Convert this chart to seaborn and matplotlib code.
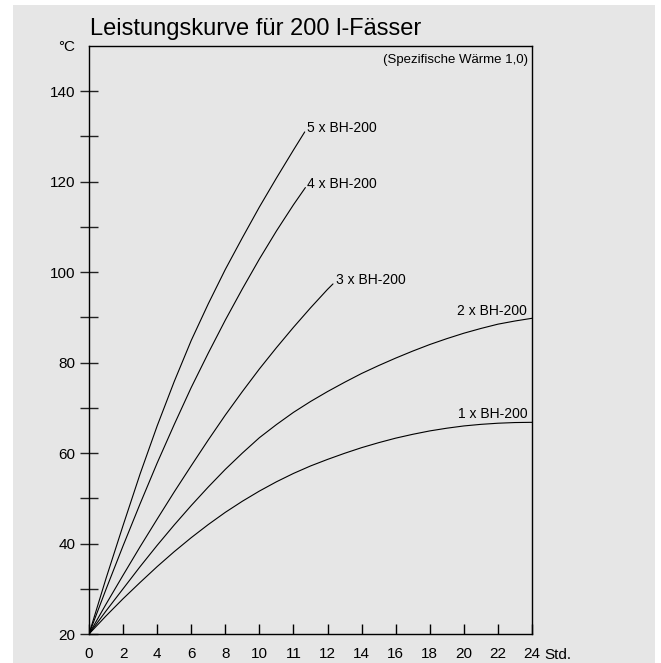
import matplotlib
matplotlib.use("Agg")
import matplotlib.pyplot as plt
import matplotlib.patches as mpatches
import pandas as pd
import seaborn as sns

# x axis positions (tick index) and the printed labels
x_ticks = list(range(14))
x_labels = ["0", "2", "4", "6", "8", "10", "11", "12", "14", "16", "18", "20", "22", "24"]

# curves (x in tick index units, y in degC)
x_1x = [0, 0.5, 1, 1.5, 2, 2.5, 3, 3.5, 4, 4.5, 5, 5.5, 6, 6.5, 7, 7.5, 8, 8.5, 9, 9.5,
        10, 10.5, 11, 11.5, 12, 12.5, 13]
y_1x = [20, 24.0, 27.8, 31.4, 34.9, 38.2, 41.3, 44.2, 46.9, 49.35, 51.6, 53.65, 55.5, 57.15,
        58.6, 59.95, 61.2, 62.3, 63.3, 64.15, 64.9, 65.5, 66.0, 66.35, 66.6, 66.75, 66.8]
x_2x = x_1x
y_2x = [20, 25.1, 30.0, 34.9, 39.6, 44.1, 48.4, 52.5, 56.4, 60.0, 63.4, 66.3, 69.0, 71.4,
        73.6, 75.65, 77.6, 79.35, 81.0, 82.55, 84.0, 85.3, 86.5, 87.55, 88.5, 89.2, 89.8]
x_3x = [0, 0.5, 1, 1.5, 2, 2.5, 3, 3.5, 4, 4.5, 5, 5.5, 6, 6.5, 7, 7.16]
y_3x = [20, 26.6, 33.0, 39.3, 45.4, 51.4, 57.2, 62.9, 68.4, 73.6, 78.6, 83.3, 87.8, 92.1,
        96.2, 97.4]
x_4x = [0, 0.5, 1, 1.5, 2, 2.5, 3, 3.5, 4, 4.5, 5, 5.5, 6, 6.35]
y_4x = [20, 29.9, 39.5, 48.8, 57.8, 66.3, 74.5, 82.1, 89.4, 96.3, 102.9, 109.1, 114.9, 118.7]
x_5x = [0, 0.5, 1, 1.5, 2, 2.5, 3, 3.5, 4, 4.5, 5, 5.5, 6, 6.33]
y_5x = [20, 32.3, 44.0, 55.4, 66.0, 75.8, 84.9, 93.0, 100.6, 107.6, 114.4, 120.8, 127.0, 131.0]

names = ["1 x BH-200", "2 x BH-200", "3 x BH-200", "4 x BH-200", "5 x BH-200"]
xs = [x_1x, x_2x, x_3x, x_4x, x_5x]
ys = [y_1x, y_2x, y_3x, y_4x, y_5x]

rows = []
for n, xx, yy in zip(names, xs, ys):
    for a, b in zip(xx, yy):
        rows.append({"name": n, "pos": a, "temp": b})
df = pd.DataFrame(rows)

sns.set_style("ticks", {"text.color": "black", "xtick.color": "black",
                        "ytick.color": "black", "axes.edgecolor": "black"})
plt.rcParams["font.family"] = ["Liberation Sans", "DejaVu Sans"]

grey = "#e6e6e6"
fig = plt.figure(figsize=(6.61, 6.63), dpi=100, facecolor="white")
bg = mpatches.Rectangle((13 / 661, 0), (655 - 13) / 661, (663 - 5) / 663,
                        transform=fig.transFigure, facecolor=grey,
                        edgecolor="none", zorder=-10)
fig.add_artist(bg)
ax = fig.add_axes([89 / 661, 29 / 663, 443 / 661, 588 / 663])
ax.set_facecolor(grey)

sns.lineplot(data=df, x="pos", y="temp", units="name", estimator=None,
             color="black", lw=0.8, sort=False, ax=ax)

ax.set_xlim(0, 13)
ax.set_ylim(20, 150)
ax.set_xlabel("")
ax.set_ylabel("")

ax.set_xticks(x_ticks)
ax.set_xticklabels(x_labels)
ax.set_yticks(range(20, 141, 20))
ax.set_yticks(range(30, 140, 20), minor=True)
ax.tick_params(axis="x", direction="in", length=7.5, width=1.0, color="black",
               labelcolor="black", labelsize=11, pad=9)
ax.tick_params(axis="y", which="both", direction="inout", length=13.5, width=1.0,
               color="#222222", labelcolor="black", labelsize=11, pad=3)

for s in ax.spines.values():
    s.set_color("black")
    s.set_linewidth(1.0)
    s.set_visible(True)

# curve labels
ax.annotate("5 x BH-200", (x_5x[-1], y_5x[-1]), xytext=(1.5, 0), textcoords="offset points",
            ha="left", va="baseline", fontsize=10)
ax.annotate("4 x BH-200", (x_4x[-1], y_4x[-1]), xytext=(1.5, 0), textcoords="offset points",
            ha="left", va="baseline", fontsize=10)
ax.annotate("3 x BH-200", (x_3x[-1], y_3x[-1]), xytext=(2, 0), textcoords="offset points",
            ha="left", va="baseline", fontsize=10)
ax.annotate("2 x BH-200", (x_2x[-1], y_2x[-1]), xytext=(-3.5, 2.5), textcoords="offset points",
            ha="right", va="baseline", fontsize=10)
ax.annotate("1 x BH-200", (x_1x[-1], y_1x[-1]), xytext=(-3.5, 3), textcoords="offset points",
            ha="right", va="baseline", fontsize=10)

ax.text(0.991, 0.976, "(Spezifische Wärme 1,0)", transform=ax.transAxes,
        ha="right", va="center", fontsize=9.5)
ax.text(-0.032, 0.998, "°C", transform=ax.transAxes, ha="right", va="center", fontsize=11)
ax.text(1.029, -0.036, "Std.", transform=ax.transAxes, ha="left", va="center", fontsize=11)
ax.text(0.002, 1.0187, "Leistungskurve für 200 l-Fässer", transform=ax.transAxes,
        ha="left", va="baseline", fontsize=17)

fig.savefig("out.png", dpi=100, facecolor="white")
